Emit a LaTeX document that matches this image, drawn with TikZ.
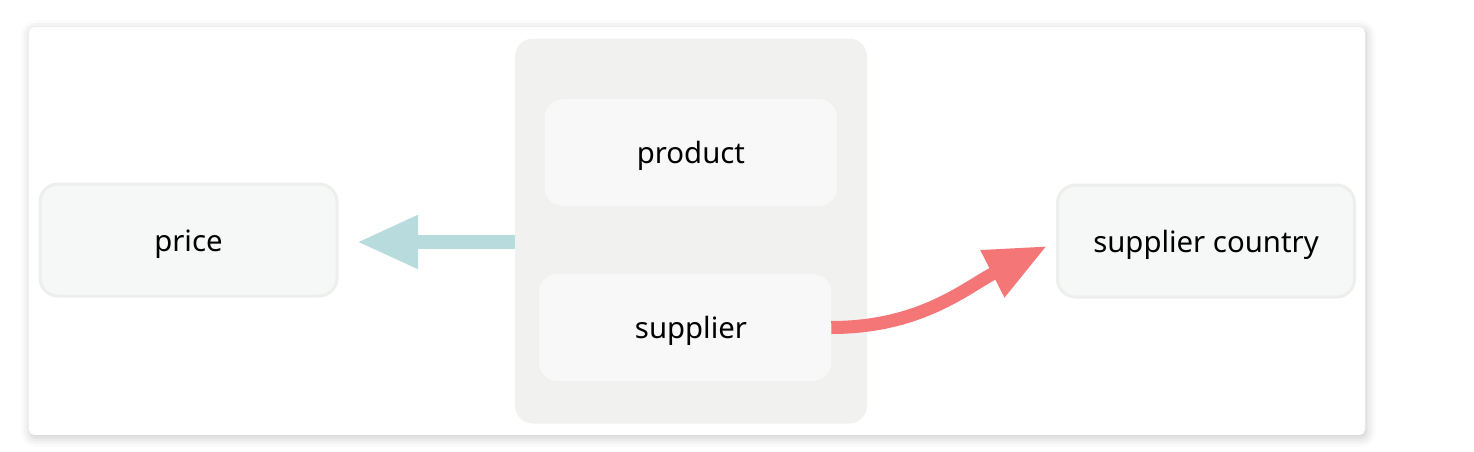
\documentclass[tikz,border=0pt]{standalone}
\usepackage{fontspec}
\setmainfont{Noto Sans}
\usetikzlibrary{arrows.meta,shadows.blur}
\definecolor{groupfill}{HTML}{F1F1EF}
\definecolor{innerfill}{HTML}{F7F8F7}
\definecolor{outerfill}{HTML}{F6F7F7}
\definecolor{outerline}{HTML}{EEEEEC}
\definecolor{tealarrow}{HTML}{B8DCDE}
\definecolor{redarrow}{HTML}{F47676}
\begin{document}
\begin{tikzpicture}[
		x=0.75pt, y=-0.75pt,
		% kartice z imeni atributov
		attrbox/.style={rounded corners=13.5pt, font=\fontsize{22}{26}\selectfont,
			text height=19pt, text depth=2pt,
			minimum width=222.75pt, minimum height=84pt, inner sep=0pt},
		outerattr/.style={attrbox, fill=outerfill, draw=outerline, line width=2.25pt},
		innerattr/.style={attrbox, fill=innerfill, minimum width=219pt, minimum height=80.25pt},
		fatarrow/.style={line width=#1},
		]
		\useasboundingbox (0,0) rectangle (1474,451);
		% ozadje
		\fill[white, rounded corners=4pt, blur shadow={shadow xshift=1pt, shadow yshift=-2pt,
			shadow blur radius=7pt, shadow opacity=22}] (29,27) rectangle (1365,435);
		\node[fill=groupfill, rounded corners=13.5pt, minimum width=264pt, minimum height=288.75pt]
			(group) at (691,231) {};
		\node[innerattr] (product) at (691,152.5) {product};
		\node[innerattr] (supplier) at (685,327.5) {\hspace*{9pt}supplier};
		\node[outerattr] (price) at (188.5,240) {price};
		\node[outerattr] (country) at (1206,241) {supplier country};
		% puscici
		\coordinate (pricetip) at (357,242);
		\coordinate (countrytip) at (1047,246);
		\draw[tealarrow, fatarrow=10.5pt, -{Triangle[length=45.75pt, width=37.5pt]}]
			(group.west |- pricetip) -- (pricetip);
		\draw[redarrow, fatarrow=9.75pt, -{Triangle[length=46pt, width=37pt]}]
			(supplier.east) to[out=0, in=207] (countrytip);
	\end{tikzpicture}
\end{document}
